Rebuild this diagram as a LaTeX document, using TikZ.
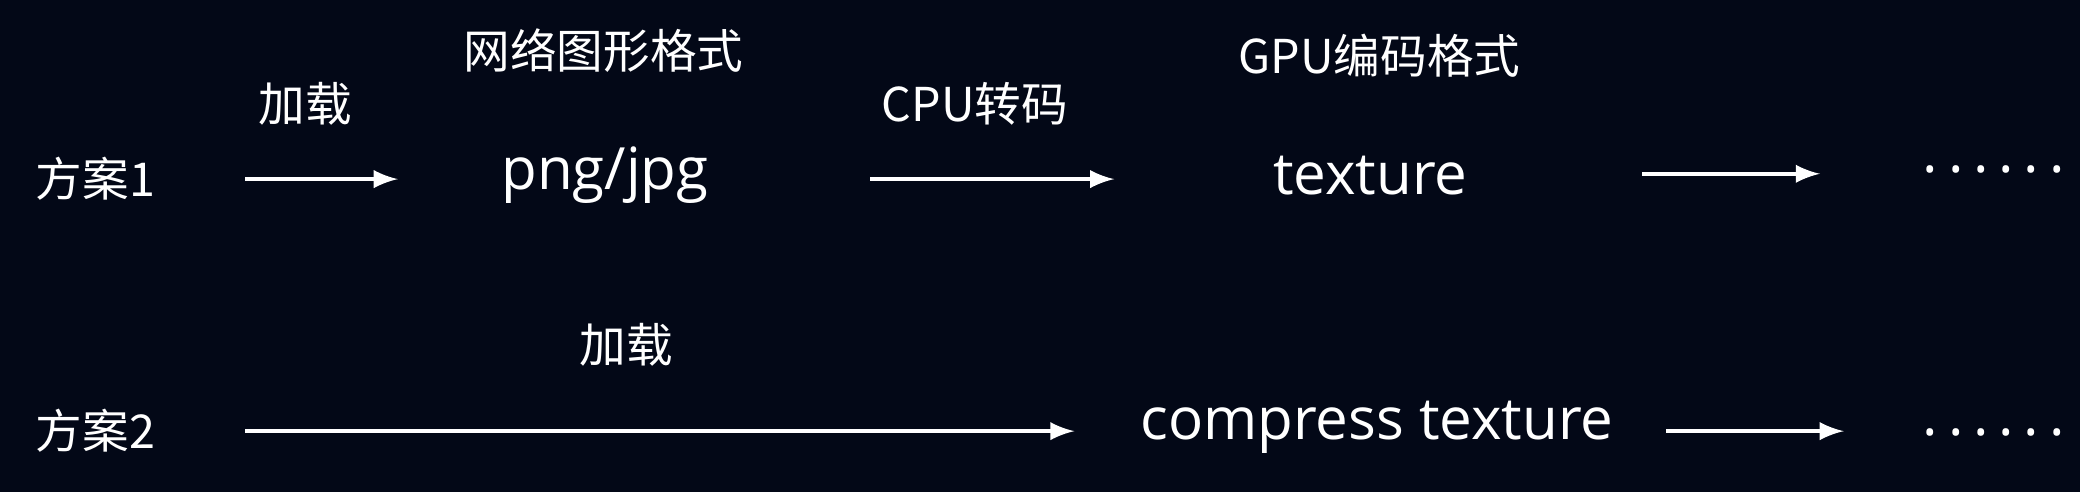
\documentclass[tikz,border=0pt]{standalone}
\usepackage{fontspec}
\setmainfont{Open Sans}
\newfontfamily\cjk{Noto Sans CJK SC}
\definecolor{bgc}{HTML}{030817}
\begin{document}
\begin{tikzpicture}[x=0.1mm,y=-0.1mm,
  txt/.style={text=white,font=\cjk\fontsize{10}{12}\selectfont,inner sep=0pt},
  big/.style={text=white,font=\fontsize{12.5}{14}\selectfont,inner sep=0pt},
  dots/.style={text=white,font=\fontsize{12.5}{14}\selectfont,inner sep=0pt},
  arr/.style={white,line width=0.8pt,-latex}]
  \fill[bgc] (0,0) rectangle (1568,371);
  \useasboundingbox (0,0) rectangle (1568,371);
  % row 1
  \node[txt] (p1) at (72,135) {方案1};
  \coordinate (a1s) at (185,135); \coordinate (a1e) at (300,135);
  \draw[arr] (a1s) -- (a1e);
  \node[txt] (l1) at (230,78) {加载};
  \node[txt] (h1) at (455,38) {网络图形格式};
  \node[big] (png) at (456,132) {png/jpg};
  \coordinate (a2s) at (656,135); \coordinate (a2e) at (840,135);
  \draw[arr] (a2s) -- (a2e);
  \node[txt] (l2) at (735,78) {CPU转码};
  \node[txt] (h2) at (1040,42) {GPU编码格式};
  \node[big] (tex) at (1033,132) {texture};
  \coordinate (a3s) at (1238,131); \coordinate (a3e) at (1372,131);
  \draw[arr] (a3s) -- (a3e);
  \node[dots] (d1) at (1503,128) {.\,.\,.\,.\,.\,.};
  % row 2
  \node[txt] (p2) at (72,325) {方案2};
  \coordinate (b1s) at (185,325); \coordinate (b1e) at (810,325);
  \draw[arr] (b1s) -- (b1e);
  \node[txt] (l3) at (472,260) {加载};
  \node[big] (ctex) at (1038,322) {compress texture};
  \coordinate (b2s) at (1256,325); \coordinate (b2e) at (1390,325);
  \draw[arr] (b2s) -- (b2e);
  \node[dots] (d2) at (1503,326) {.\,.\,.\,.\,.\,.};
\end{tikzpicture}
\end{document}
